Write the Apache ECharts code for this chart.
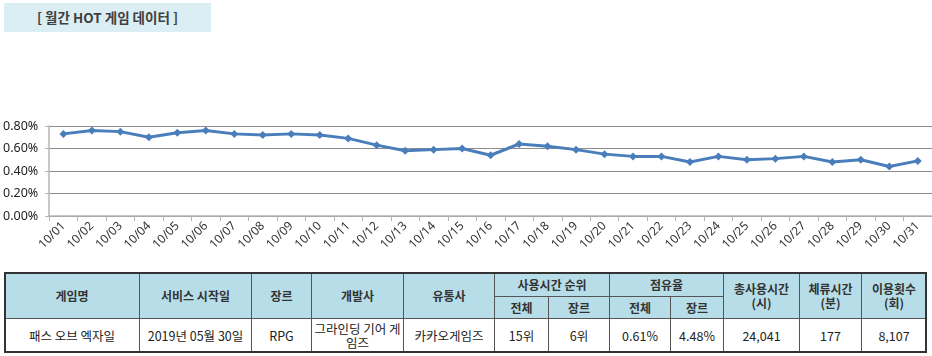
<!DOCTYPE html>
<html><head><meta charset="utf-8">
<script src="https://cdn.jsdelivr.net/npm/echarts@6/dist/echarts.min.js"></script>
<style>
html,body{margin:0;padding:0;background:#fff;}
#wrap{position:relative;width:932px;height:356px;overflow:hidden;font-family:"Noto Sans CJK KR","Noto Sans",sans-serif;}
#title{position:absolute;left:4px;top:3px;width:207px;height:29px;background:#dbeef4;color:#404040;font-weight:bold;font-size:13.5px;line-height:29px;text-align:center;}
#chart{position:absolute;left:0;top:0;width:932px;height:270px;}
.cell{position:absolute;box-sizing:border-box;border:1px solid #555;display:flex;align-items:center;justify-content:center;text-align:center;font-size:12.5px;color:#222;line-height:14px;padding:0 2px;word-break:break-all;}
.hd{background:#b7dde8;font-weight:bold;color:#333;font-size:12px;}
#outer{position:absolute;box-sizing:border-box;border:2px solid #333;left:4px;top:272px;width:923px;height:81px;pointer-events:none;}
</style></head>
<body><div id="wrap">
<div id="chart"></div>
<div id="title">[ 월간 HOT 게임 데이터 ]</div>
<div id="table"></div>
<div id="outer"></div>
</div>
<script>
const dates = ['10/01','10/02','10/03','10/04','10/05','10/06','10/07','10/08','10/09','10/10','10/11','10/12','10/13','10/14','10/15','10/16','10/17','10/18','10/19','10/20','10/21','10/22','10/23','10/24','10/25','10/26','10/27','10/28','10/29','10/30','10/31'];
const share = [0.73,0.76,0.75,0.70,0.74,0.76,0.73,0.72,0.73,0.72,0.69,0.63,0.58,0.59,0.60,0.54,0.64,0.62,0.59,0.55,0.53,0.53,0.48,0.53,0.50,0.51,0.53,0.48,0.50,0.44,0.49];

const headTop = ['게임명','서비스 시작일','장르','개발사','유통사'];
const headGroups = ['사용시간 순위','점유율'];
const headSub = ['전체','장르','전체','장르'];
const headRight = ['총사용시간\n(시)','체류시간\n(분)','이용횟수\n(회)'];
const rowValues = ['패스 오브 엑자일','2019년 05월 30일','RPG','그라인딩 기어 게임즈','카카오게임즈','15위','6위','0.61%','4.48%','24,041','177','8,107'];

const chart = echarts.init(document.getElementById('chart'));
chart.setOption({
  animation:false,
  grid:{left:47,right:0,top:126,bottom:54},
  xAxis:{type:'category',data:dates,boundaryGap:true,
    axisLine:{lineStyle:{color:'#b4b4b4',width:1.5}},
    axisTick:{show:true,alignWithLabel:false,length:5,lineStyle:{color:'#b4b4b4'}},
    axisLabel:{rotate:45,fontSize:12,color:'#333',margin:8,interval:0,fontFamily:'Noto Sans'}},
  yAxis:{type:'value',min:0,max:0.8,interval:0.2,
    axisLine:{show:true,lineStyle:{color:'#b4b4b4',width:1.5}},
    axisTick:{show:true,length:4,lineStyle:{color:'#b4b4b4'}},
    splitLine:{lineStyle:{color:'#8c8c8c'}},
    axisLabel:{fontSize:12.5,color:'#222',margin:11,fontFamily:'Noto Sans',formatter:v=>v.toFixed(2)+'%'}},
  series:[{type:'line',data:share,symbol:'diamond',symbolSize:8,
    lineStyle:{color:'#4a7ebb',width:3},itemStyle:{color:'#4a7ebb'}}]
});

const tbl = document.getElementById('table');
function cell(x0,x1,y0,y1,text,hd){
  const d=document.createElement('div');
  d.className='cell'+(hd?' hd':'');
  d.style.left=x0+'px';d.style.top=y0+'px';
  d.style.width=(x1-x0+1)+'px';d.style.height=(y1-y0+1)+'px';
  d.innerText=text;
  tbl.appendChild(d);
}
const cx=[4,139,251,311,403,494,548,609,670,723,799,861,926];
headTop.forEach((t,i)=>cell(cx[i],cx[i+1],272,318,t,true));
cell(cx[5],cx[7],272,296,headGroups[0],true);
cell(cx[7],cx[9],272,296,headGroups[1],true);
headSub.forEach((t,i)=>cell(cx[5+i],cx[6+i],296,318,t,true));
headRight.forEach((t,i)=>cell(cx[9+i],cx[10+i],272,318,t,true));
rowValues.forEach((t,i)=>cell(cx[i],cx[i+1],318,352,t,false));
</script>
</body></html>
